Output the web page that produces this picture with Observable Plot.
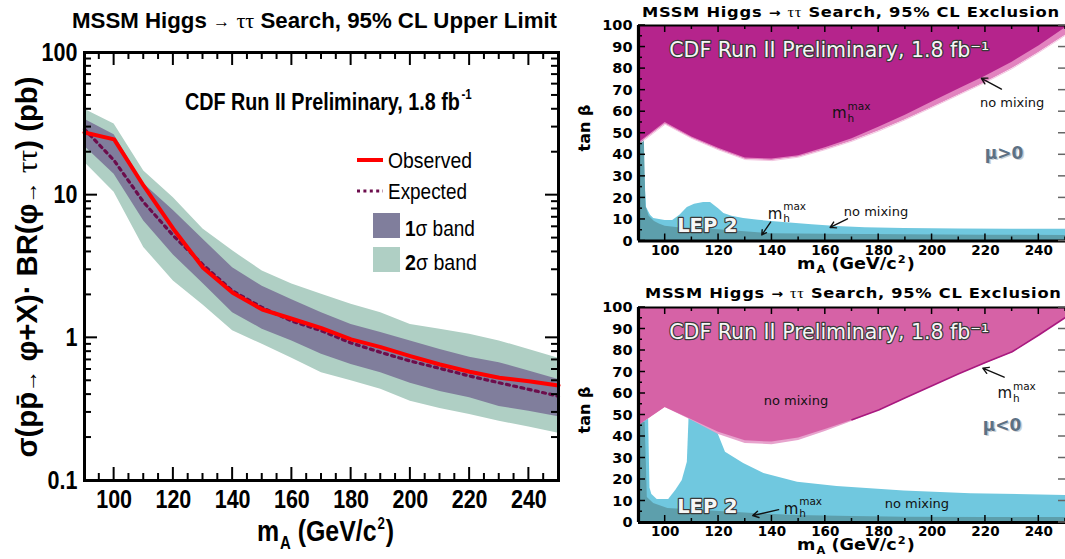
<!DOCTYPE html>
<html>
<head>
<meta charset="utf-8">
<script src="https://cdn.jsdelivr.net/npm/d3@7"></script>
<script src="https://cdn.jsdelivr.net/npm/@observablehq/plot@0.6"></script>
<style>
  body { margin: 0; background: #fff; }
  #root { position: relative; width: 1065px; height: 559px; overflow: hidden; background: #fff; }
  #root > svg { position: absolute; }
</style>
</head>
<body>
<div id="root"></div>
<script>
// ---------- Cross-section limit vs m_A (left panel) ----------
const limitMass      = [90, 100, 110, 120, 130, 140, 150, 160, 170, 180, 190, 200, 210, 220, 230, 240, 250];
const observedLimit  = [27.5, 24.6, 11.6, 5.8, 3.1, 2.07, 1.58, 1.36, 1.17, 0.975, 0.86, 0.745, 0.65, 0.578, 0.525, 0.497, 0.464];
const expectedLimit  = [29, 17.5, 8.9, 5.2, 3.25, 2.13, 1.63, 1.31, 1.12, 0.92, 0.79, 0.687, 0.61, 0.54, 0.484, 0.435, 0.39];
const band1Low       = [22, 14, 6.6, 3.8, 2.4, 1.5, 1.15, 0.95, 0.766, 0.65, 0.57, 0.48, 0.42, 0.38, 0.33, 0.306, 0.28];
const band1High      = [34, 26.5, 12, 7.8, 4.9, 3.1, 2.3, 1.85, 1.5, 1.24, 1.09, 0.95, 0.83, 0.73, 0.67, 0.585, 0.51];
const band2Low       = [17, 10.5, 4.3, 2.5, 1.7, 1.12, 0.9, 0.72, 0.57, 0.5, 0.436, 0.36, 0.32, 0.29, 0.26, 0.237, 0.214];
const band2High      = [40, 31.5, 14.8, 9.6, 5.8, 4.07, 2.94, 2.38, 2.02, 1.72, 1.5, 1.24, 1.15, 1.06, 0.95, 0.83, 0.72];

const limitXMajor = [100, 120, 140, 160, 180, 200, 220, 240];
const limitXMinor = [95, 105, 110, 115, 125, 130, 135, 145, 150, 155, 165, 170, 175, 185, 190, 195, 205, 210, 215, 225, 230, 235, 245];
const limitYMajor = [0.1, 1, 10, 100];
const limitYMinor = [0.2, 0.3, 0.4, 0.5, 0.6, 0.7, 0.8, 0.9, 2, 3, 4, 5, 6, 7, 8, 9, 20, 30, 40, 50, 60, 70, 80, 90];

// ---------- tan(beta) exclusion, mu > 0 (upper right) ----------
const exclMass      = [90, 100, 110, 120, 130, 140, 150, 160, 170, 180, 190, 200, 210, 220, 230, 240, 250];
const mhmaxTanPos   = [45.5, 55, 48.3, 43, 38.5, 38, 39.6, 43.3, 47.5, 52.8, 58.4, 64.5, 70.5, 76.5, 83, 90.5, 99];
const nomixTanPos   = [44.8, 54.2, 47.6, 42.3, 37.8, 37.3, 38.9, 42.4, 46.3, 51, 56.3, 62, 67.8, 73.6, 80, 87.5, 95.5];

const lepNomixMassPos = [90, 91.5, 93, 94.5, 95.7, 100, 102.8, 105.5, 108.3, 111, 114.4, 117, 120, 122, 125, 129.4, 135, 144.4, 155, 164.4, 175, 189.5, 210, 230, 250];
const lepNomixTanPos  = [46.7, 46.7, 15.6, 12, 10.4, 9.5, 9.5, 12, 15.6, 17, 17.9, 17.9, 15, 12.8, 11.5, 10.4, 9.6, 8.6, 7.5, 6.7, 6.2, 5.8, 5.6, 5.5, 5.4];
const lepMhmaxMassPos = [90, 92.2, 92.8, 94, 96, 98, 100, 105, 114, 125, 139.5, 160, 190, 220, 250];
const lepMhmaxTanPos  = [46.7, 46.7, 16, 11.5, 9, 7.8, 6.8, 6.2, 5.8, 4.8, 3.4, 3.1, 2.9, 2.7, 2.6];

// ---------- tan(beta) exclusion, mu < 0 (lower right) ----------
const nomixTanNeg     = [45, 53.5, 47.8, 42, 38, 37.4, 39.3, 43.3, 47.5, 52, 57.6, 63.2, 68.8, 74, 79, 86.8, 95];
const nomixEdgeTanNeg = [45, 53.5, 47.4, 40.9, 36.8, 36.2, 38.1, 42.3, 47, 52, 57.6, 63.2, 68.8, 74, 79, 86.8, 95];
const mhmaxLineMass   = [170, 180, 190, 200, 210, 220, 230, 240, 250];
const mhmaxLineTanNeg = [47.8, 52.3, 58, 63.6, 69.2, 74.4, 79.4, 87.2, 95.4];

const lepNomixMassNeg = [90, 93.8, 100, 109, 119.6, 122.6, 129.4, 137, 149.6, 164.4, 189.5, 214.5, 250];
const lepNomixTanNeg  = [46, 48, 56, 52, 42, 32.7, 27.4, 22.8, 18.7, 16.7, 14.6, 13.4, 12.6];
const lepHoleMassNeg  = [93.8, 94.3, 95, 97, 101.3, 104, 106.4, 108.3, 108.9];
const lepHoleLowNeg   = [47.5, 16, 13, 10.7, 10.7, 15, 19.5, 28, 47.5];
const lepMhmaxMassNeg = [90, 92.5, 93.3, 95.7, 101, 114, 133, 149, 170, 190, 220, 250];
const lepMhmaxTanNeg  = [46.5, 46.5, 11.6, 8.8, 6.5, 5.6, 4.2, 3.3, 2.8, 2.4, 2.3, 2.3];

const exclXMajor = [100, 120, 140, 160, 180, 200, 220, 240];
const exclXMinor = [110, 130, 150, 170, 190, 210, 230, 250];
const exclYMajor = [0, 10, 20, 30, 40, 50, 60, 70, 80, 90, 100];
const exclYMinor = [5, 15, 25, 35, 45, 55, 65, 75, 85, 95];

// ---------- annotations inside the exclusion panels ----------
const cdfLabelPos   = [{m: 161.5, t: 88.3}];
const lepLabelPos   = [{m: 115.8, t: 7.3}];
const posNotes = {
  mhmaxUpper: {m: 162.5, t: 59.2}, nomixUpper: {m: 230, t: 64.2}, sign: {m: 227, t: 40.8, text: "μ>0"},
  mhmaxLower: {m: 138.4, t: 12.6}, nomixLower: {m: 179, t: 13.6},
  arrows: [
    {m1: 226, t1: 70.5, m2: 218.5, t2: 75.5},
    {m1: 139.5, t1: 8.8, m2: 136.2, t2: 2.8},
    {m1: 168.3, t1: 10.3, m2: 161.8, t2: 6.3}
  ]
};
const negNotes = {
  nomixUpper: {m: 149, t: 56.5}, mhmaxUpper: {m: 224.5, t: 60}, sign: {m: 226.2, t: 45.2, text: "μ<0"},
  mhmaxLower: {m: 144.4, t: 6.4}, nomixLower: {m: 194.3, t: 8.6},
  arrows: [
    {m1: 227, t1: 67.6, m2: 219, t2: 71.8},
    {m1: 142.5, t1: 6.0, m2: 132.8, t2: 3.2}
  ]
};

// ---------- panel geometry (SVG size, margins, position on the page) ----------
const massDomain = [90, 250];
const limitDomain = [0.1, 100];
const tanDomain = [0, 100];
const LEFT   = {x0: 0,   y0: 0,   width: 570, height: 559, top: 52, right: 12, bottom: 79,   left: 84};
const TOPR   = {x0: 570, y0: 0,   width: 495, height: 280, top: 25, right: 0,  bottom: 39.5, left: 68};
const BOTR   = {x0: 570, y0: 280, width: 495, height: 279, top: 27, right: 0,  bottom: 37,   left: 68};

const root = document.getElementById("root");
function place(node, left, top) {
  node.style.left = left + "px";
  node.style.top = top + "px";
  root.appendChild(node);
  return node;
}
const margins = g => ({width: g.width, height: g.height, marginTop: g.top, marginRight: g.right, marginBottom: g.bottom, marginLeft: g.left});

// ================= Left panel: cross-section x BR limit =================
const limitRows = limitMass.map((m, i) => ({
  m, obs: observedLimit[i], exp: expectedLimit[i],
  lo1: band1Low[i], hi1: band1High[i], lo2: band2Low[i], hi2: band2High[i]
}));

const leftPlot = Plot.plot({
  ...margins(LEFT),
  style: {fontFamily: '"Liberation Sans", Arial, sans-serif', fontWeight: "bold", background: "transparent", overflow: "visible", color: "#000"},
  x: {domain: massDomain},
  y: {type: "log", domain: limitDomain},
  marks: [
    Plot.areaY(limitRows, {x: "m", y1: "lo2", y2: "hi2", fill: "#afcfc4"}),
    Plot.areaY(limitRows, {x: "m", y1: "lo1", y2: "hi1", fill: "#807e9c"}),
    Plot.line(limitRows, {x: "m", y: "exp", stroke: "#6c0d4c", strokeWidth: 3.2, strokeDasharray: "3,4.4"}),
    Plot.line(limitRows, {x: "m", y: "obs", stroke: "#ff0000", strokeWidth: 4}),
    Plot.axisX(limitXMajor, {anchor: "bottom", tickSize: 0, tickPadding: 10, fontSize: 25, tickFormat: d => String(d), label: null}),
    Plot.axisY(limitYMajor, {anchor: "left", tickSize: 0, tickPadding: 7, fontSize: 25, tickFormat: d => String(d), label: null}),
    Plot.frame({stroke: "#000", strokeWidth: 3})
  ]
});
place(leftPlot, LEFT.x0, LEFT.y0);
// condensed look of the tick numbers
leftPlot.querySelectorAll('g[aria-label$="tick label"] text').forEach(t => {
  const w = t.getComputedTextLength();
  if (w > 0) {
    t.setAttribute("textLength", (w * 0.86).toFixed(1));
    t.setAttribute("lengthAdjust", "spacingAndGlyphs");
  }
});

// ================= Right panels: tan(beta) exclusion =================
const dejavu = '"DejaVu Sans", Verdana, sans-serif';
const rows = (ms, ...cols) => ms.map((m, i) => Object.fromEntries([["m", m], ...cols.map(([k, a]) => [k, a[i]])]));

function exclusionAxes() {
  return [
    Plot.axisX(exclXMajor, {anchor: "bottom", tickSize: 0, tickPadding: 4, fontSize: 13.5, tickFormat: d => String(d), label: null}),
    Plot.axisY(exclYMajor, {anchor: "left", tickSize: 0, tickPadding: 6, fontSize: 14.5, tickFormat: d => String(d), label: null}),
    Plot.ruleY([100], {stroke: "#000", strokeWidth: 2}),
    Plot.ruleX([90], {stroke: "#000", strokeWidth: 3.2}),
    Plot.ruleY([0], {stroke: "#000", strokeWidth: 3.2})
  ];
}

function mhmaxLabel(p) {
  return [
    Plot.text([p], {x: "m", y: "t", text: () => "m", fontSize: 15, fontWeight: "normal", textAnchor: "start", fill: "#111"}),
    Plot.text([p], {x: "m", y: "t", text: () => "max", dx: 15.5, dy: -7, fontSize: 10.5, fontWeight: "normal", textAnchor: "start", fill: "#111"}),
    Plot.text([p], {x: "m", y: "t", text: () => "h", dx: 15.5, dy: 5, fontSize: 10.5, fontWeight: "normal", textAnchor: "start", fill: "#111"})
  ];
}
function outlined(data, text, size, weight) {
  return Plot.text(data, {
    x: "m", y: "t", text: () => text, fontSize: size, fontWeight: weight,
    fill: "#f6f6f6", stroke: "#3a3a3a", strokeWidth: 2.4, paintOrder: "stroke"
  });
}
function noteText(p, text) {
  return Plot.text([p], {x: "m", y: "t", text: () => text, fontSize: 13, fontWeight: "normal", fill: "#111"});
}
function signText(p) {
  return [
    Plot.text([p], {x: "m", y: "t", text: () => p.text, fontSize: 17, fontWeight: "bold", fill: "#c9d0d6", dx: 1.5, dy: 1.5}),
    Plot.text([p], {x: "m", y: "t", text: () => p.text, fontSize: 17, fontWeight: "bold", fill: "#5d7184"})
  ];
}
const arrowsOf = list => Plot.arrow(list, {x1: "m1", y1: "t1", x2: "m2", y2: "t2", stroke: "#111", strokeWidth: 1.4, headLength: 7});

const exclStyle = {fontFamily: dejavu, fontWeight: "bold", background: "transparent", overflow: "visible", color: "#000"};

// mu > 0
const posExcl = rows(exclMass, ["mhmax", mhmaxTanPos], ["nomix", nomixTanPos]);
const topPlot = Plot.plot({
  ...margins(TOPR),
  style: exclStyle,
  x: {domain: massDomain},
  y: {domain: tanDomain},
  marks: [
    Plot.areaY(rows(lepNomixMassPos, ["t", lepNomixTanPos]), {x: "m", y1: () => 0, y2: "t", fill: "#70c8df"}),
    Plot.areaY(rows(lepMhmaxMassPos, ["t", lepMhmaxTanPos]), {x: "m", y1: () => 0, y2: "t", fill: "#5d9fac"}),
    Plot.areaY(posExcl, {x: "m", y1: "nomix", y2: () => 100, fill: "#e283bf"}),
    Plot.line(posExcl, {x: "m", y: "nomix", stroke: "#f3c6e0", strokeWidth: 1}),
    Plot.areaY(posExcl, {x: "m", y1: "mhmax", y2: () => 100, fill: "#b5248c"}),
    outlined(cdfLabelPos, "CDF Run II Preliminary, 1.8 fb⁻¹", 20.5, "normal"),
    outlined(lepLabelPos, "LEP 2", 19.5, "bold"),
    ...mhmaxLabel(posNotes.mhmaxUpper),
    noteText(posNotes.nomixUpper, "no mixing"),
    ...signText(posNotes.sign),
    ...mhmaxLabel(posNotes.mhmaxLower),
    noteText(posNotes.nomixLower, "no mixing"),
    arrowsOf(posNotes.arrows),
    ...exclusionAxes()
  ]
});
place(topPlot, TOPR.x0, TOPR.y0);

// mu < 0
const negExcl = rows(exclMass, ["nomix", nomixTanNeg], ["edge", nomixEdgeTanNeg]);
const bottomPlot = Plot.plot({
  ...margins(BOTR),
  style: exclStyle,
  x: {domain: massDomain},
  y: {domain: tanDomain},
  marks: [
    Plot.areaY(rows(lepNomixMassNeg, ["t", lepNomixTanNeg]), {x: "m", y1: () => 0, y2: "t", fill: "#70c8df"}),
    Plot.areaY(rows(lepHoleMassNeg, ["lo", lepHoleLowNeg]), {x: "m", y1: "lo", y2: () => 60, fill: "#ffffff"}),
    Plot.areaY(rows(lepMhmaxMassNeg, ["t", lepMhmaxTanNeg]), {x: "m", y1: () => 0, y2: "t", fill: "#5d9fac"}),
    Plot.areaY(negExcl, {x: "m", y1: "edge", y2: () => 100, fill: "#e7a3cd"}),
    Plot.areaY(negExcl, {x: "m", y1: "nomix", y2: () => 100, fill: "#d662a6"}),
    Plot.line(rows(mhmaxLineMass, ["t", mhmaxLineTanNeg]), {x: "m", y: "t", stroke: "#a8197f", strokeWidth: 1.6}),
    outlined(cdfLabelPos, "CDF Run II Preliminary, 1.8 fb⁻¹", 20.5, "normal"),
    outlined(lepLabelPos, "LEP 2", 19.5, "bold"),
    noteText(negNotes.nomixUpper, "no mixing"),
    ...mhmaxLabel(negNotes.mhmaxUpper),
    ...signText(negNotes.sign),
    ...mhmaxLabel(negNotes.mhmaxLower),
    noteText(negNotes.nomixLower, "no mixing"),
    arrowsOf(negNotes.arrows),
    ...exclusionAxes()
  ]
});
place(bottomPlot, BOTR.x0, BOTR.y0);

// ================= Titles, axis titles, legend and frame ticks =================
// Each label is squeezed horizontally (data-w) to the width it occupies on the page.
const NS = "http://www.w3.org/2000/svg";
const overlay = document.createElementNS(NS, "svg");
overlay.setAttribute("width", 1065);
overlay.setAttribute("height", 559);
overlay.style.pointerEvents = "none";
overlay.innerHTML = `
<g id="frame-ticks"></g>
<g font-family="Liberation Sans, Arial, sans-serif" font-weight="bold" fill="#000">
  <text data-x="72" data-y="27.5" data-w="486" font-size="22">MSSM Higgs <tspan font-size="17" dy="-1">→</tspan><tspan dy="1"> </tspan><tspan font-family="Liberation Serif, serif" font-weight="normal">ττ</tspan> Search, 95% CL Upper Limit</text>
  <text data-x="185" data-y="110" data-w="287" font-size="24">CDF Run II Preliminary, 1.8 fb<tspan font-size="14" dx="2" dy="-11">-1</tspan></text>
  <text data-x="37" data-y="267" data-w="381" data-rot="-90" data-anchor="middle" font-size="29">σ(pp̄<tspan font-size="22">→</tspan> φ+X)· BR(φ<tspan font-size="22">→</tspan> <tspan font-family="Liberation Serif, serif" font-weight="normal">ττ</tspan>) (pb)</text>
  <text data-x="257" data-y="541" data-w="137" font-size="30">m<tspan font-size="18" dx="1" dy="8">A</tspan><tspan dy="-8"> (GeV/c</tspan><tspan font-size="16" dx="1" dy="-12">2</tspan><tspan dx="1" dy="12">)</tspan></text>
</g>
<g font-family="Liberation Sans, Arial, sans-serif" fill="#000">
  <line x1="357" x2="383" y1="160" y2="160" stroke="#ff0000" stroke-width="4"/>
  <text data-x="388" data-y="168" data-w="84" font-size="22">Observed</text>
  <line x1="357" x2="383" y1="191" y2="191" stroke="#6c0d4c" stroke-width="3.2" stroke-dasharray="3,3.4"/>
  <text data-x="388" data-y="199" data-w="79" font-size="22">Expected</text>
  <rect x="373" y="213" width="27" height="25" fill="#807e9c"/>
  <text data-x="405" data-y="236" data-w="70" font-size="22"><tspan font-weight="bold">1</tspan>σ band</text>
  <rect x="373" y="247" width="27" height="25" fill="#afcfc4"/>
  <text data-x="405" data-y="270" data-w="72" font-size="22"><tspan font-weight="bold">2</tspan>σ band</text>
</g>
<g font-family="DejaVu Sans, Verdana, sans-serif" font-weight="bold" fill="#000">
  <text data-x="642" data-y="17" data-w="418" font-size="14" letter-spacing="0.6">MSSM Higgs <tspan font-size="12">→</tspan> <tspan font-family="Liberation Serif, serif" font-weight="normal">ττ</tspan> Search, 95% CL Exclusion</text>
  <text data-x="645" data-y="298" data-w="417" font-size="14" letter-spacing="0.6">MSSM Higgs <tspan font-size="12">→</tspan> <tspan font-family="Liberation Serif, serif" font-weight="normal">ττ</tspan> Search, 95% CL Exclusion</text>
  <text data-x="797" data-y="269" data-w="118" font-size="15.5">m<tspan font-size="10" dx="1" dy="4">A</tspan><tspan dy="-4"> (GeV/c</tspan><tspan font-size="10" dx="1" dy="-6">2</tspan><tspan dx="1" dy="6">)</tspan></text>
  <text data-x="797" data-y="550" data-w="118" font-size="15.5">m<tspan font-size="10" dx="1" dy="4">A</tspan><tspan dy="-4"> (GeV/c</tspan><tspan font-size="10" dx="1" dy="-6">2</tspan><tspan dx="1" dy="6">)</tspan></text>
  <text data-x="590" data-y="128" data-rot="-90" data-anchor="middle" font-size="16">tan β</text>
  <text data-x="590" data-y="410" data-rot="-90" data-anchor="middle" font-size="16">tan β</text>
</g>`;
place(overlay, 0, 0);

overlay.querySelectorAll("text[data-x]").forEach(t => {
  const x = +t.dataset.x, y = +t.dataset.y, rot = +(t.dataset.rot || 0);
  const anchor = t.dataset.anchor || "start";
  t.setAttribute("text-anchor", anchor);
  let sx = 1;
  if (t.dataset.w) {
    const w = t.getBBox().width;
    if (w > 0) sx = +t.dataset.w / w;
  }
  t.setAttribute("transform", `translate(${x},${y}) rotate(${rot}) scale(${sx},1)`);
});

// Inward tick marks along the frame edges: same domains and frame box as the plots above.
function addInwardTicks(geom, yType, yDomain, spec) {
  const box = {
    left: geom.x0 + geom.left, right: geom.x0 + geom.width - geom.right,
    top: geom.y0 + geom.top, bottom: geom.y0 + geom.height - geom.bottom
  };
  const sx = d3.scaleLinear().domain(massDomain).range([box.left, box.right]);
  const sy = (yType === "log" ? d3.scaleLog() : d3.scaleLinear()).domain(yDomain).range([box.bottom, box.top]);
  let markup = "";
  for (const {axis, side, values, size, width, color = "#000"} of spec) {
    for (const v of values) {
      let xa, xb, ya, yb;
      if (axis === "x") {
        xa = xb = sx(v);
        if (side === "bottom") { ya = box.bottom; yb = box.bottom - size; }
        else { ya = box.top; yb = box.top + size; }
      } else {
        ya = yb = sy(v);
        if (side === "left") { xa = box.left; xb = box.left + size; }
        else { xa = box.right; xb = box.right - size; }
      }
      markup += `<line x1="${xa.toFixed(2)}" x2="${xb.toFixed(2)}" y1="${ya.toFixed(2)}" y2="${yb.toFixed(2)}" stroke="${color}" stroke-width="${width}"/>`;
    }
  }
  overlay.querySelector("#frame-ticks").insertAdjacentHTML("beforeend", markup);
}
addInwardTicks(LEFT, "log", limitDomain, [
  {axis: "x", side: "bottom", values: limitXMajor, size: 13, width: 2},
  {axis: "x", side: "bottom", values: limitXMinor, size: 7, width: 2},
  {axis: "x", side: "top", values: limitXMajor, size: 13, width: 2},
  {axis: "x", side: "top", values: limitXMinor, size: 7, width: 2},
  {axis: "y", side: "left", values: limitYMajor, size: 13, width: 2},
  {axis: "y", side: "left", values: limitYMinor, size: 7, width: 2},
  {axis: "y", side: "right", values: limitYMajor, size: 13, width: 2},
  {axis: "y", side: "right", values: limitYMinor, size: 7, width: 2}
]);
const exclTickSpec = [
  {axis: "x", side: "bottom", values: exclXMajor, size: 7, width: 1.5},
  {axis: "x", side: "bottom", values: exclXMinor, size: 4, width: 1.5},
  {axis: "x", side: "top", values: exclXMajor, size: 7, width: 1.5},
  {axis: "x", side: "top", values: exclXMinor, size: 4, width: 1.5},
  {axis: "y", side: "left", values: exclYMajor, size: 7, width: 1.5},
  {axis: "y", side: "left", values: exclYMinor, size: 4, width: 1.5},
  {axis: "y", side: "right", values: exclYMajor, size: 7, width: 1.5, color: "#666"}
];
addInwardTicks(TOPR, "linear", tanDomain, exclTickSpec);
addInwardTicks(BOTR, "linear", tanDomain, exclTickSpec);
</script>
</body>
</html>
